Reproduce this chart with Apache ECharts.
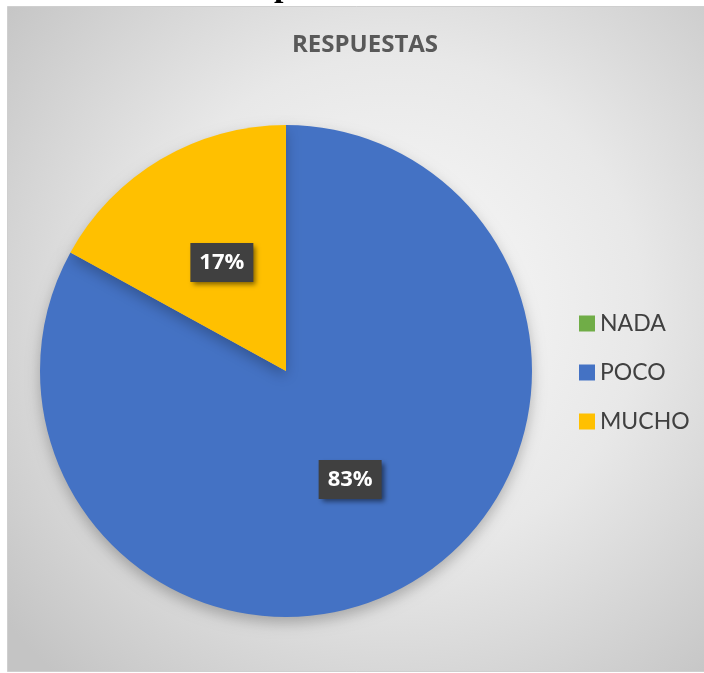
<!DOCTYPE html>
<html>
<head>
<meta charset="utf-8">
<style type="text/css">
html, body{margin: 0; padding: 0; background: #ffffff}
#chart{width: 704px; height: 673px}
</style>
<script src="https://cdn.jsdelivr.net/npm/echarts@6/dist/echarts.min.js"></script>
</head>
<body>
<div id="chart"></div>
<script type="text/javascript">
// datos
var categorias = ['NADA', 'POCO', 'MUCHO'];
var valores = [0, 83, 17];
var colores = ['#70AD47', '#4472C4', '#FFC000'];

var chart = echarts.init(document.getElementById('chart'));

var datos = categorias.map(function (c, i) {
    return {
        name: c,
        value: valores[i],
        itemStyle: {color: colores[i]},
        label: {show: valores[i] > 0}
    };
});

var option = {
    animation: false,
    graphic: [
        {
            type: 'rect',
            z: -10,
            shape: {x: 7.5, y: 6.5, width: 700, height: 665},
            style: {
                fill: new echarts.graphic.RadialGradient(0.55, 0.45, 0.75, [
                    {offset: 0, color: '#fafafa'},
                    {offset: 0.5, color: '#e8e8e8'},
                    {offset: 1, color: '#c4c4c4'}
                ]),
                stroke: '#cfcfcf',
                lineWidth: 1
            }
        },
        {
            type: 'text',
            left: 274,
            top: -30,
            style: {
                text: 'p',
                font: 'bold 34px "Liberation Serif"',
                fill: '#000000'
            }
        }
    ],
    title: {
        text: 'RESPUESTAS',
        left: 287,
        top: 28,
        textStyle: {
            fontFamily: 'Open Sans',
            fontWeight: 'bold',
            fontSize: 24,
            color: '#595959'
        }
    },
    legend: {
        orient: 'vertical',
        left: 574,
        top: 307,
        itemWidth: 16,
        itemHeight: 16,
        itemGap: 26,
        icon: 'rect',
        data: categorias,
        textStyle: {
            fontFamily: 'Lato',
            fontSize: 23,
            color: '#404040'
        }
    },
    series: [
        {
            type: 'pie',
            center: [286, 371],
            radius: 246,
            startAngle: 90,
            clockwise: true,
            avoidLabelOverlap: false,
            percentPrecision: 0,
            itemStyle: {
                shadowBlur: 14,
                shadowOffsetY: 6,
                shadowColor: 'rgba(0,0,0,0.25)'
            },
            label: {
                position: 'inner',
                formatter: '{d}%',
                fontFamily: 'Open Sans',
                fontWeight: 'bold',
                fontSize: 22,
                color: '#ffffff',
                backgroundColor: '#404040',
                padding: [9, 9, 8, 9],
                shadowBlur: 5,
                shadowOffsetX: 3,
                shadowOffsetY: 3,
                shadowColor: 'rgba(0,0,0,0.5)'
            },
            labelLine: {show: false},
            emphasis: {disabled: true},
            data: datos
        }
    ]
};
chart.setOption(option);
</script>
</body>
</html>
